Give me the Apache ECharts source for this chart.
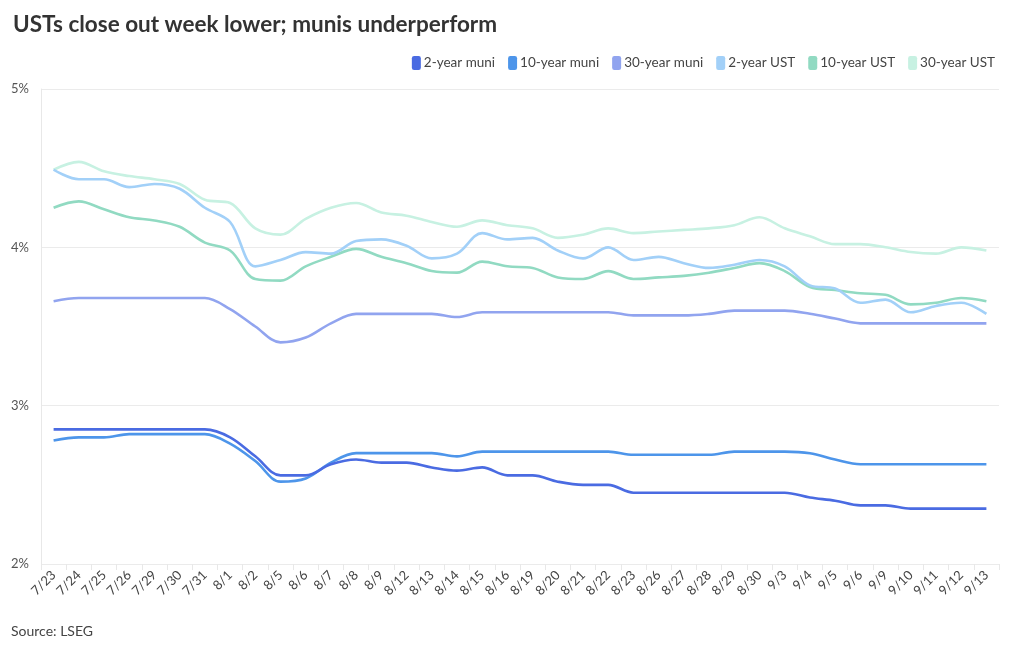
<!DOCTYPE html>
<html>
<head>
    <meta charset="utf-8">
    <title>USTs close out week lower</title>
    <script src="https://cdn.jsdelivr.net/npm/echarts@6/dist/echarts.min.js"></script>
    <style>
      body { margin: 0; background: #fff; }
    </style>
</head>
<body>
    <div id="main" style="width:1020px;height:650px;"></div>
    <script type="text/javascript">
      // data
      var dates = ['7/23','7/24','7/25','7/26','7/29','7/30','7/31','8/1','8/2','8/5','8/6','8/7','8/8','8/9',
        '8/12','8/13','8/14','8/15','8/16','8/19','8/20','8/21','8/22','8/23','8/26','8/27','8/28','8/29',
        '8/30','9/3','9/4','9/5','9/6','9/9','9/10','9/11','9/12','9/13'];

      var muni2 = [2.85,2.85,2.85,2.85,2.85,2.85,2.85,2.80,2.68,2.56,2.56,2.63,2.66,2.64,
        2.64,2.61,2.59,2.61,2.56,2.56,2.52,2.50,2.50,2.45,2.45,2.45,2.45,2.45,
        2.45,2.45,2.42,2.40,2.37,2.37,2.35,2.35,2.35,2.35];
      var muni10 = [2.78,2.80,2.80,2.82,2.82,2.82,2.82,2.76,2.65,2.52,2.54,2.64,2.70,2.70,
        2.70,2.70,2.68,2.71,2.71,2.71,2.71,2.71,2.71,2.69,2.69,2.69,2.69,2.71,
        2.71,2.71,2.70,2.66,2.63,2.63,2.63,2.63,2.63,2.63];
      var muni30 = [3.66,3.68,3.68,3.68,3.68,3.68,3.68,3.61,3.50,3.40,3.43,3.52,3.58,3.58,
        3.58,3.58,3.56,3.59,3.59,3.59,3.59,3.59,3.59,3.57,3.57,3.57,3.58,3.60,
        3.60,3.60,3.58,3.55,3.52,3.52,3.52,3.52,3.52,3.52];
      var ust2 = [4.49,4.43,4.43,4.38,4.40,4.37,4.25,4.16,3.88,3.92,3.97,3.96,4.04,4.05,
        4.01,3.93,3.96,4.09,4.05,4.06,3.98,3.93,4.00,3.92,3.94,3.90,3.87,3.89,
        3.92,3.88,3.76,3.74,3.65,3.67,3.59,3.63,3.65,3.58];
      var ust10 = [4.25,4.29,4.24,4.19,4.17,4.13,4.03,3.98,3.80,3.79,3.88,3.94,3.99,3.94,
        3.90,3.85,3.84,3.91,3.88,3.87,3.81,3.80,3.85,3.80,3.81,3.82,3.84,3.87,
        3.90,3.85,3.75,3.73,3.71,3.70,3.64,3.65,3.68,3.66];
      var ust30 = [4.49,4.54,4.48,4.45,4.43,4.40,4.30,4.28,4.12,4.08,4.18,4.25,4.28,4.22,
        4.20,4.16,4.13,4.17,4.14,4.12,4.06,4.08,4.12,4.09,4.10,4.11,4.12,4.14,
        4.19,4.12,4.07,4.02,4.02,4.00,3.97,3.96,4.00,3.98];

      var names = ['2-year muni','10-year muni','30-year muni','2-year UST','10-year UST','30-year UST'];
      var colors = ['#4a6be2','#4d95ea','#91a4ef','#a2d0f8','#91dac2','#c7f1e2'];
      var values = [muni2, muni10, muni30, ust2, ust10, ust30];

      var chart = echarts.init(document.getElementById('main'));

      var series = names.map(function (n, i) {
        return {
          name: n,
          type: 'line',
          data: values[i],
          smooth: 0.35,
          showSymbol: false,
          symbol: 'none',
          lineStyle: { width: 2.6, color: colors[i] },
          itemStyle: { color: colors[i] },
          z: 10 - i
        };
      });

      var option = {
        animation: false,
        backgroundColor: '#fff',
        textStyle: { fontFamily: 'Lato' },
        title: {
          text: 'USTs close out week lower; munis underperform',
          left: 8, top: 8,
          textStyle: { fontFamily: 'Lato', fontWeight: 'bold', fontSize: 22.5, color: '#333' }
        },
        legend: {
          data: names,
          right: 20, top: 51,
          icon: 'roundRect',
          itemWidth: 9, itemHeight: 14,
          itemGap: 13,
          textStyle: { fontFamily: 'Lato', fontSize: 13.5, color: '#444', padding: [0, 0, 0, -2] }
        },
        graphic: [{
          type: 'text', left: 11, top: 624,
          style: { text: 'Source: LSEG', font: '14px Lato', fill: '#444' }
        }],
        grid: { left: 41, right: 21, top: 89, bottom: 86 },
        xAxis: {
          type: 'category',
          data: dates,
          boundaryGap: true,
          axisLine: { show: false },
          axisTick: { show: true, length: 6, lineStyle: { color: '#e8e8e8' } },
          axisLabel: { rotate: 45, interval: 0, fontSize: 13, color: '#444', margin: 9 }
        },
        yAxis: {
          type: 'value',
          min: 2, max: 5, interval: 1,
          axisLine: { show: true, lineStyle: { color: '#e8e8e8' } },
          axisTick: { show: false },
          splitLine: { lineStyle: { color: '#ebebeb' } },
          axisLabel: { formatter: '{value}%', fontSize: 13, color: '#555', margin: 12 }
        },
        series: series
      };
      chart.setOption(option);
    </script>
</body>
</html>
